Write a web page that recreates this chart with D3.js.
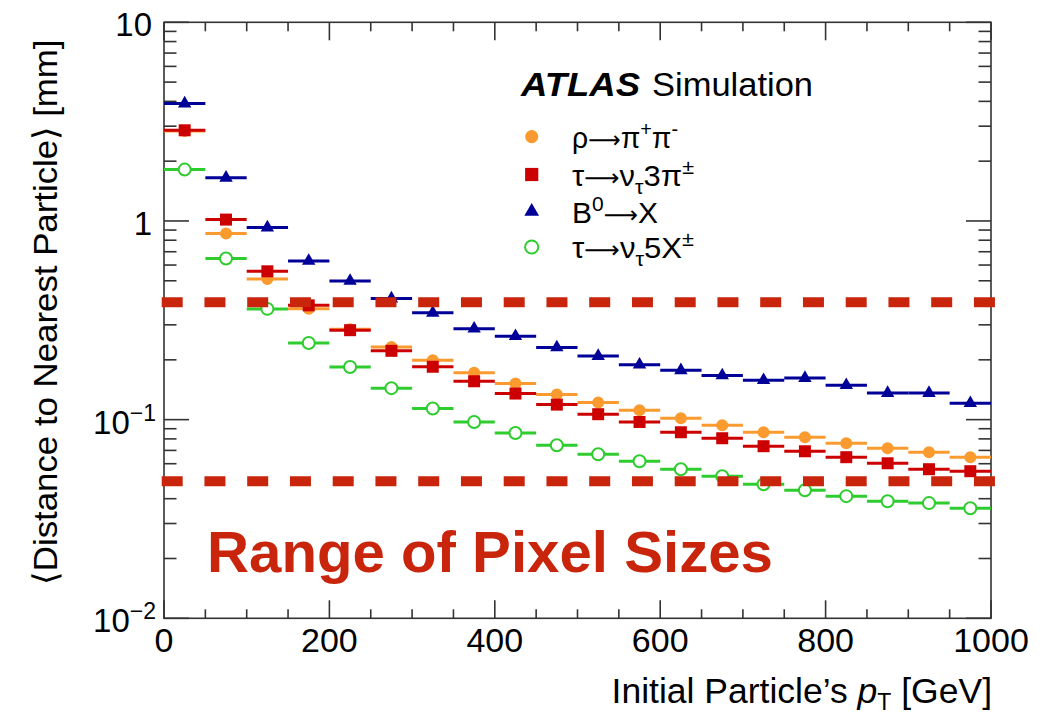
<!DOCTYPE html>
<html>
<head>
<meta charset="utf-8">
<script src="https://cdn.jsdelivr.net/npm/d3@7"></script>
<style>
  body { margin: 0; background: #fff; }
  svg { display: block; }
  text { font-family: "Liberation Sans", Arial, Helvetica, sans-serif; fill: #000; }
</style>
</head>
<body>
<svg id="chart" width="1058" height="719"></svg>
<script>
// pT bins (GeV)
const binLow    = [0, 50, 100, 150, 200, 250, 300, 350, 400, 450, 500, 550, 600, 650, 700, 750, 800, 850, 900, 950];
const binHigh   = [50, 100, 150, 200, 250, 300, 350, 400, 450, 500, 550, 600, 650, 700, 750, 800, 850, 900, 950, 1000];
const binCenter = [25, 75, 125, 175, 225, 275, 325, 375, 425, 475, 525, 575, 625, 675, 725, 775, 825, 875, 925, 975];

// mean distance to nearest particle [mm]
const rhoPiPi    = [2.84, 0.864, 0.511, 0.362, 0.285, 0.232, 0.199, 0.172, 0.152, 0.134, 0.122, 0.1115, 0.1016, 0.0937, 0.0864, 0.0815, 0.076, 0.0718, 0.0685, 0.0647];
const tauThreePi = [2.86, 1.016, 0.558, 0.376, 0.282, 0.222, 0.1846, 0.156, 0.1353, 0.119, 0.1065, 0.0973, 0.0864, 0.0806, 0.0735, 0.0693, 0.0647, 0.0603, 0.0563, 0.055];
const bZeroX     = [3.90, 1.65, 0.926, 0.629, 0.499, 0.407, 0.345, 0.287, 0.263, 0.231, 0.209, 0.189, 0.177, 0.167, 0.158, 0.162, 0.149, 0.136, 0.136, 0.121];
const tauFiveX   = [1.814, 0.647, 0.361, 0.243, 0.184, 0.144, 0.1137, 0.0973, 0.0857, 0.0743, 0.067, 0.0617, 0.0563, 0.0519, 0.0473, 0.0441, 0.0412, 0.0388, 0.038, 0.0358];

// pixel size band [mm]
const pixelSizeLimits = [0.39, 0.049];

// axis ticks
const xMajorTicks = [0, 200, 400, 600, 800, 1000];
const xMinorTicks = [50, 100, 150, 250, 300, 350, 450, 500, 550, 650, 700, 750, 850, 900, 950];
const yDecades = [0.01, 0.1, 1, 10];
const yDecadeLabels = [["10", "\u22122"], ["10", "\u22121"], ["1", ""], ["10", ""]];
const yMinorMultipliers = [2, 3, 4, 5, 6, 7, 8, 9];

const svg = d3.select("#chart");
const plotLeft = 164, plotRight = 991, plotTop = 22.3, plotBottom = 618.3;

const x = d3.scaleLinear().domain([0, 1000]).range([plotLeft, plotRight]);
const y = d3.scaleLog().domain([0.01, 10]).range([plotBottom, plotTop]);

const series = [
  { name: "rho",  values: rhoPiPi,    color: "#fb9a2f", shape: "circle",   open: false },
  { name: "tau3", values: tauThreePi, color: "#cc0000", shape: "square",   open: false },
  { name: "b0",   values: bZeroX,     color: "#000099", shape: "triangle", open: false },
  { name: "tau5", values: tauFiveX,   color: "#2ecc2e", shape: "circle",   open: true  }
];

function markerPath(shape, scale) {
  const s = scale || 1;
  if (shape === "circle") return d3.symbol(d3.symbolCircle, 113 * s * s)();
  if (shape === "square") return d3.symbol(d3.symbolSquare, 144 * s * s)();
  return d3.symbol(d3.symbolTriangle, 78 * s * s)();
}

// ---- frame and ticks ----
const axisColor = "#333";
const frame = svg.append("g");
frame.append("rect")
  .attr("x", plotLeft).attr("y", plotTop)
  .attr("width", plotRight - plotLeft).attr("height", plotBottom - plotTop)
  .attr("fill", "none").attr("stroke", axisColor).attr("stroke-width", 1.6);

const tickG = frame.append("g").attr("stroke", axisColor).attr("stroke-width", 1.6);
// x ticks on bottom and top
xMajorTicks.forEach(v => {
  tickG.append("line").attr("x1", x(v)).attr("x2", x(v)).attr("y1", plotBottom).attr("y2", plotBottom - 18);
  tickG.append("line").attr("x1", x(v)).attr("x2", x(v)).attr("y1", plotTop).attr("y2", plotTop + 18);
});
xMinorTicks.forEach(v => {
  tickG.append("line").attr("x1", x(v)).attr("x2", x(v)).attr("y1", plotBottom).attr("y2", plotBottom - 9);
  tickG.append("line").attr("x1", x(v)).attr("x2", x(v)).attr("y1", plotTop).attr("y2", plotTop + 9);
});
// y ticks on left and right
yDecades.forEach(d => {
  tickG.append("line").attr("x1", plotLeft).attr("x2", plotLeft + 25).attr("y1", y(d)).attr("y2", y(d));
  tickG.append("line").attr("x1", plotRight).attr("x2", plotRight - 25).attr("y1", y(d)).attr("y2", y(d));
  if (d < 10) {
    yMinorMultipliers.forEach(m => {
      const v = d * m;
      tickG.append("line").attr("x1", plotLeft).attr("x2", plotLeft + 12.5).attr("y1", y(v)).attr("y2", y(v));
      tickG.append("line").attr("x1", plotRight).attr("x2", plotRight - 12.5).attr("y1", y(v)).attr("y2", y(v));
    });
  }
});

// x tick labels
svg.append("g").selectAll("text").data(xMajorTicks).join("text")
  .attr("x", d => x(d)).attr("y", 652)
  .attr("text-anchor", "middle")
  .attr("font-size", 34)
  .text(d => d);

// y tick labels
const yLab = svg.append("g");
yDecades.forEach((d, i) => {
  const [base, exp] = yDecadeLabels[i];
  const t = yLab.append("text")
    .attr("x", exp ? 156 : 152).attr("y", y(d) + 14)
    .attr("text-anchor", "end")
    .attr("font-size", 33);
  t.append("tspan").text(base);
  if (exp) t.append("tspan").attr("dy", -13).attr("font-size", 23).text(exp);
});

// axis titles
svg.append("text")
  .attr("transform", "translate(57,312) rotate(-90)")
  .attr("text-anchor", "middle")
  .attr("font-size", 34)
  .attr("textLength", 545).attr("lengthAdjust", "spacingAndGlyphs")
  .text("\u27E8Distance to Nearest Particle\u27E9 [mm]");

const xt = svg.append("text")
  .attr("x", 992).attr("y", 703)
  .attr("text-anchor", "end")
  .attr("font-size", 35.5);
xt.append("tspan").text("Initial Particle\u2019s ");
xt.append("tspan").attr("font-style", "italic").text("p");
xt.append("tspan").attr("dy", 7).attr("font-size", 23).text("T");
xt.append("tspan").attr("dy", -7).text(" [GeV]");

// ---- data: horizontal bin-width bars and markers ----
const dataG = svg.append("g");
series.forEach(s => {
  const g = dataG.append("g");
  g.selectAll("line").data(s.values).join("line")
    .attr("x1", (v, i) => x(binLow[i]))
    .attr("x2", (v, i) => x(binHigh[i]))
    .attr("y1", v => y(v)).attr("y2", v => y(v))
    .attr("stroke", s.color).attr("stroke-width", 3);
  g.selectAll("path").data(s.values).join("path")
    .attr("d", markerPath(s.shape))
    .attr("transform", (v, i) => `translate(${x(binCenter[i])},${y(v)})`)
    .attr("fill", s.open ? "#fff" : s.color)
    .attr("stroke", s.open ? s.color : "none")
    .attr("stroke-width", s.open ? 2 : 0);
});

// ---- legend ----
const header = svg.append("text").attr("y", 96).attr("font-size", 33);
header.append("tspan").attr("x", 521).attr("font-weight", "bold").attr("font-style", "italic")
  .attr("textLength", 119).attr("lengthAdjust", "spacingAndGlyphs").text("ATLAS");
header.append("tspan").attr("x", 652)
  .attr("textLength", 161).attr("lengthAdjust", "spacingAndGlyphs").text("Simulation");

const ARROW = "arrow";
const legendRows = [
  { y: 136.7, width: 106, parts: [["ρ", 0], [ARROW, 0], ["π", 0], ["+", 1], ["π", 0], ["-", 1]] },
  { y: 174.5, width: 122, parts: [["τ", 0], [ARROW, 0], ["ν", 0], ["τ", -1], ["3π", 0], ["±", 1]] },
  { y: 211.5, width: 86,  parts: [["B", 0], ["0", 1], [ARROW, 0], ["X", 0]] },
  { y: 247,   width: 122, parts: [["τ", 0], [ARROW, 0], ["ν", 0], ["τ", -1], ["5X", 0], ["±", 1]] }
];
legendRows.forEach((row, i) => {
  const s = series[i];
  svg.append("path")
    .attr("d", markerPath(s.shape, 1.1))
    .attr("transform", `translate(531.7,${row.y})`)
    .attr("fill", s.open ? "#fff" : s.color)
    .attr("stroke", s.open ? s.color : "none")
    .attr("stroke-width", s.open ? 2 : 0);
  const t = svg.append("text").attr("x", 572).attr("y", row.y + 11).attr("font-size", 30)
    .attr("textLength", row.width).attr("lengthAdjust", "spacingAndGlyphs");
  let shift = 0;
  row.parts.forEach(([str, pos]) => {
    const target = pos === 1 ? -12 : pos === -1 ? 8 : 0;
    const sp = t.append("tspan")
      .attr("dy", target - shift)
      .attr("font-size", pos === 0 ? 30 : 21);
    if (str === ARROW) {
      sp.style("font-family", "'DejaVu Sans', sans-serif").attr("font-size", 24).text("\u27F6");
    } else {
      sp.text(str);
    }
    shift = target;
  });
});

// ---- pixel size band ----
const bandColor = "#c8250c";
svg.append("g").selectAll("line").data(pixelSizeLimits).join("line")
  .attr("x1", 161.7).attr("x2", 997)
  .attr("y1", d => y(d)).attr("y2", d => y(d))
  .attr("stroke", bandColor).attr("stroke-width", 10)
  .attr("stroke-dasharray", "21,21.75");

svg.append("text")
  .attr("x", 207).attr("y", 572)
  .attr("font-size", 58).attr("font-weight", "bold")
  .attr("textLength", 566).attr("lengthAdjust", "spacingAndGlyphs")
  .style("fill", bandColor)
  .text("Range of Pixel Sizes");
</script>
</body>
</html>
